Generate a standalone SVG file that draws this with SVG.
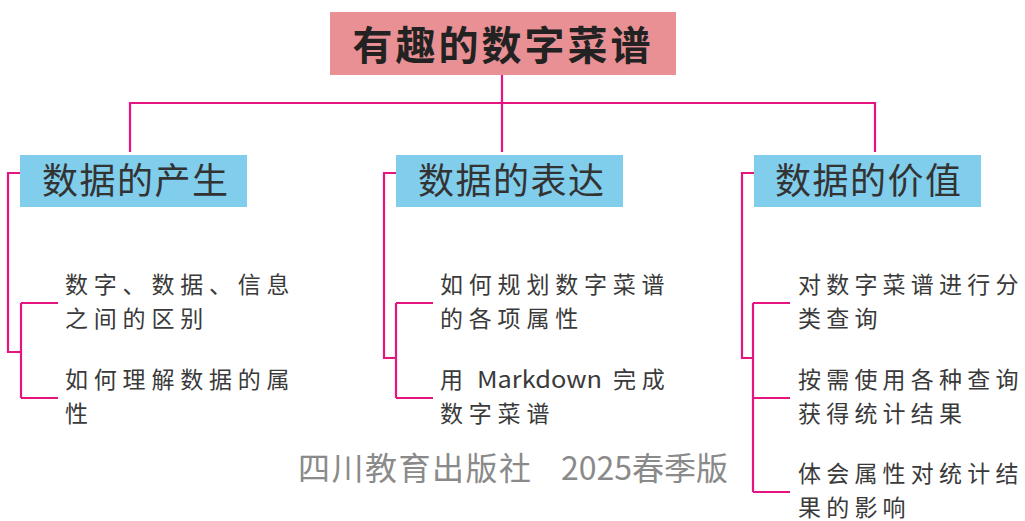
<svg xmlns="http://www.w3.org/2000/svg" width="1025" height="521" viewBox="0 0 1025 521">
<style>
.ln{fill:none;stroke:#e5147f;stroke-width:2.2}
.root{fill:#e89093}
.cat{fill:#80cdec}
.t{font-family:"Noto Sans CJK SC","Noto Sans",sans-serif;fill:#333}
.rt{font-size:40px;font-weight:bold;fill:#222;letter-spacing:3px}
.ct{font-size:36px;letter-spacing:1.5px}
.it{font-size:23px;letter-spacing:5.8px;fill:#3a3a3a}
.it3{letter-spacing:5.2px}
.ft{font-family:"Noto Sans CJK SC","Noto Sans",sans-serif;font-size:32px;fill:#8a8a8a}
</style>
<rect width="1025" height="521" fill="#fff"/>
<g id="connectors">
<path class="ln" d="M502,75 V103 M130,152 V103 H875 V152 M502,103 V152"/>
<path class="ln" d="M20,173 H8 V352 H21 M21,303 V398 M21,303 H58 M21,398 H58"/>
<path class="ln" d="M396,173 H384 V358 H396 M396,303 V398 M396,303 H433 M396,398 H433"/>
<path class="ln" d="M754,173 H742 V358 H753 M753,303 V492 M753,303 H790 M753,398 H790 M753,492 H790"/>
</g>
<g id="root">
<rect class="root" x="330" y="12" width="346" height="63"/>
<text class="t rt" x="503" y="60" text-anchor="middle">有趣的数字菜谱</text>
</g>
<g id="cat1">
<rect class="cat" x="20" y="155" width="227" height="52"/>
<text class="t ct" x="42" y="194">数据的产生</text>
</g>
<g id="cat2">
<rect class="cat" x="396" y="155" width="227" height="52"/>
<text class="t ct" x="418" y="194">数据的表达</text>
</g>
<g id="cat3">
<rect class="cat" x="754" y="155" width="227" height="52"/>
<text class="t ct" x="775" y="194">数据的价值</text>
</g>
<g id="item1a">
<text class="t it" x="65" y="293">数字、数据、信息</text>
<text class="t it" x="65" y="327">之间的区别</text>
</g>
<g id="item1b">
<text class="t it" x="65" y="388">如何理解数据的属</text>
<text class="t it" x="65" y="422">性</text>
</g>
<g id="item2a">
<text class="t it" x="440" y="293">如何规划数字菜谱</text>
<text class="t it" x="440" y="327">的各项属性</text>
</g>
<g id="item2b">
<text class="t it" x="440" y="388">用<tspan x="477" style="letter-spacing:0" textLength="125" lengthAdjust="spacingAndGlyphs">Markdown</tspan><tspan x="613">完成</tspan></text>
<text class="t it" x="440" y="422">数字菜谱</text>
</g>
<g id="item3a">
<text class="t it it3" x="798" y="293">对数字菜谱进行分</text>
<text class="t it it3" x="798" y="327">类查询</text>
</g>
<g id="item3b">
<text class="t it it3" x="798" y="388">按需使用各种查询</text>
<text class="t it it3" x="798" y="422">获得统计结果</text>
</g>
<g id="item3c">
<text class="t it it3" x="798" y="482">体会属性对统计结</text>
<text class="t it it3" x="798" y="516">果的影响</text>
</g>
<g id="footer">
<text class="ft" x="298" y="480" style="letter-spacing:1.5px">四川教育出版社</text>
<text class="ft" x="561" y="480">2025春季版</text>
</g>
</svg>
